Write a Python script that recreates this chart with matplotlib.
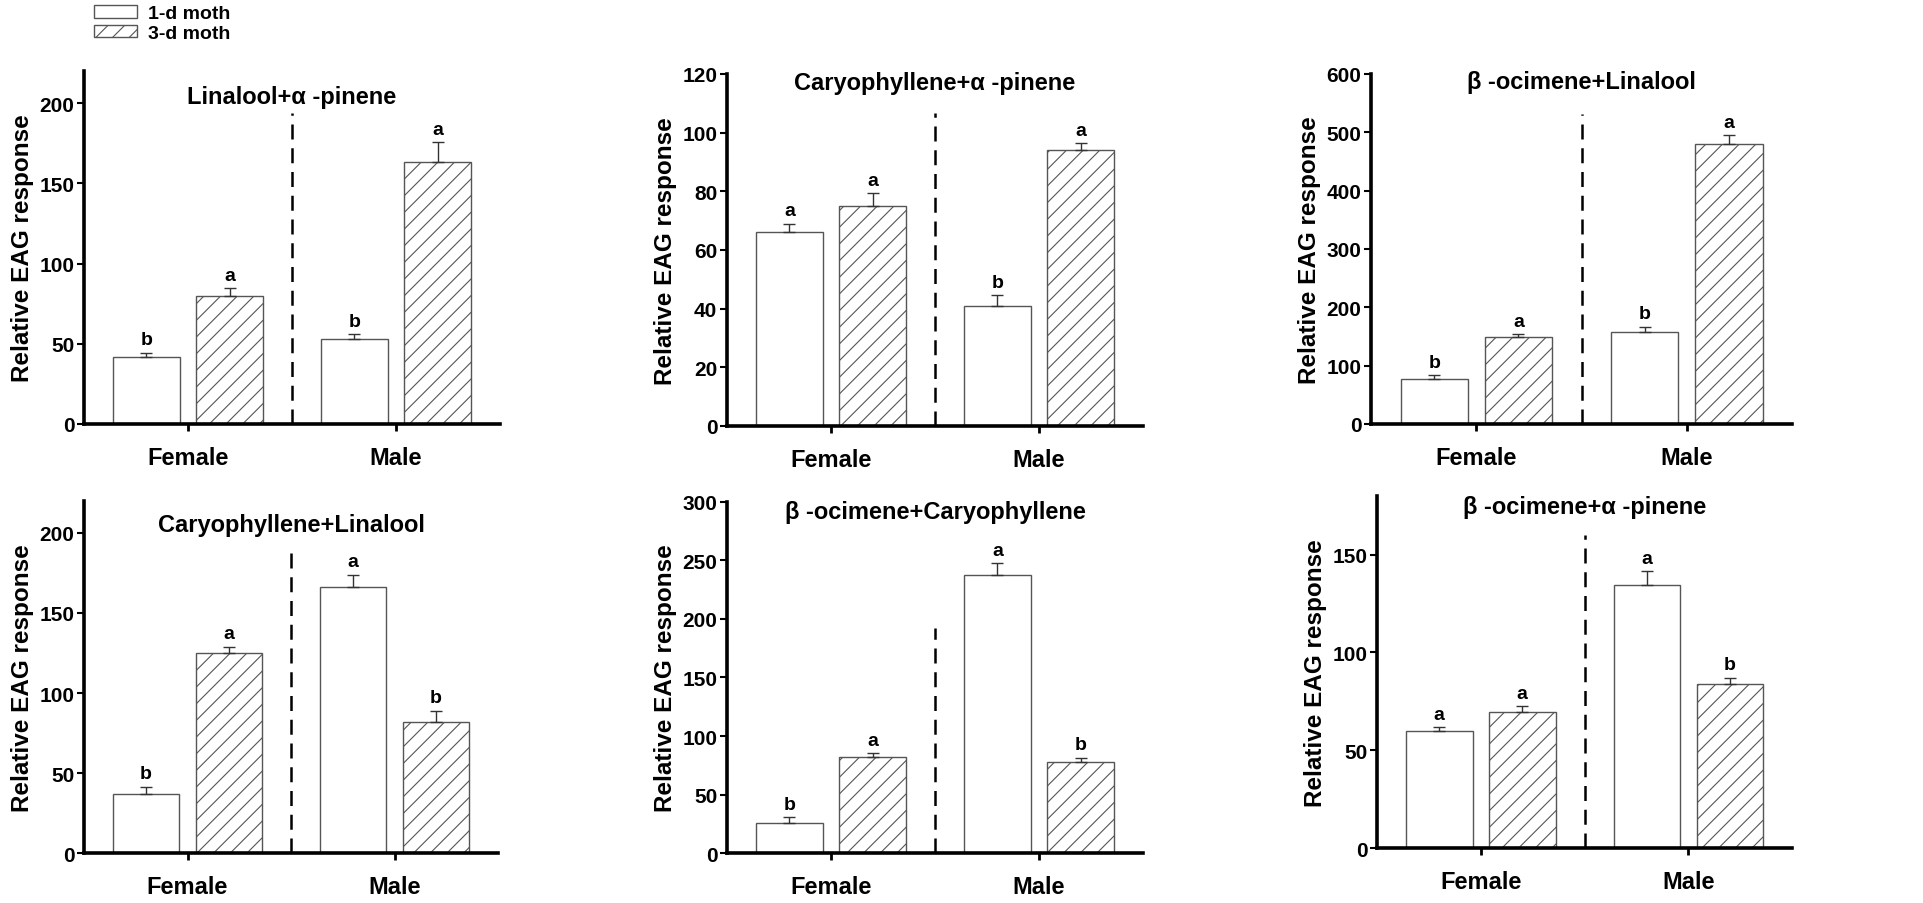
import numpy as np
import matplotlib
matplotlib.use('Agg')
import matplotlib.pyplot as plt
from matplotlib.patches import Patch

plt.rcParams['font.family'] = ['Liberation Sans', 'DejaVu Sans']
plt.rcParams['font.weight'] = 'bold'
plt.rcParams['hatch.linewidth'] = 0.8

# 数据：每个面板 [Female, Male]
sexes = ['Female', 'Male']
series_labels = ['1-d moth', '3-d moth']
titles = ['Linalool+α -pinene', 'Caryophyllene+α -pinene', 'β -ocimene+Linalool',
          'Caryophyllene+Linalool', 'β -ocimene+Caryophyllene', 'β -ocimene+α -pinene']

mean_1d = [[42, 53], [66, 41], [77, 157], [37, 166], [26, 238], [60, 134.5]]
mean_3d = [[79.5, 163.5], [75, 94], [148.5, 480], [125, 82], [82, 77.5], [69.5, 84]]
se_1d = [[2.5, 3], [3, 3.5], [7, 10], [4.5, 8], [5, 10], [2, 7]]
se_3d = [[5, 12], [4.5, 2.5], [6, 15], [4, 7], [3.5, 4], [3, 3.2]]
letters_1d = [['b', 'b'], ['a', 'b'], ['b', 'b'], ['b', 'a'], ['b', 'a'], ['a', 'a']]
letters_3d = [['a', 'a'], ['a', 'a'], ['a', 'a'], ['a', 'b'], ['a', 'b'], ['a', 'b']]
y_max = [220, 120, 600, 220, 300, 180]
y_step = [50, 20, 100, 50, 50, 50]

# 布局（图像坐标比例）
axes_pos = [[0.0437, 0.5299, 0.2163, 0.3905],
            [0.3781, 0.5277, 0.2163, 0.3894],
            [0.7130, 0.5299, 0.2189, 0.3872],
            [0.0437, 0.0553, 0.2153, 0.3894],
            [0.3781, 0.0553, 0.2163, 0.3883],
            [0.7161, 0.0608, 0.2158, 0.3894]]
title_y = [0.929, 0.977, 0.977, 0.932, 0.974, 0.969]
divider_top = [0.88, 0.89, 0.885, 0.87, 0.64, 0.89]

edge = '#555555'
fig = plt.figure(figsize=(19.23, 9.04), dpi=100)

x = np.arange(len(sexes))
w = 0.32
for i in range(6):
    ax = fig.add_axes(axes_pos[i])
    ax.bar(x - 0.2, mean_1d[i], w, color='white', edgecolor=edge, linewidth=1)
    ax.bar(x + 0.2, mean_3d[i], w, color='white', edgecolor=edge, linewidth=1, hatch='//')
    ax.errorbar(x - 0.2, mean_1d[i], yerr=[np.zeros(2), se_1d[i]], fmt='none',
                ecolor='#333333', elinewidth=1, capsize=4, capthick=1)
    ax.errorbar(x + 0.2, mean_3d[i], yerr=[np.zeros(2), se_3d[i]], fmt='none',
                ecolor='#333333', elinewidth=1, capsize=4, capthick=1)
    for j in range(2):
        ax.annotate(letters_1d[i][j], (x[j] - 0.2, mean_1d[i][j] + se_1d[i][j]),
                    xytext=(0, 3), textcoords='offset points', ha='center', va='bottom',
                    fontsize=14, fontweight='bold')
        ax.annotate(letters_3d[i][j], (x[j] + 0.2, mean_3d[i][j] + se_3d[i][j]),
                    xytext=(0, 3), textcoords='offset points', ha='center', va='bottom',
                    fontsize=14, fontweight='bold')

    ax.axvline(0.5, ymin=0, ymax=divider_top[i], color='black', linewidth=1.8,
               linestyle=(0, (6, 3.5)))
    ax.set_xlim(-0.5, 1.5)
    ax.set_ylim(0, y_max[i])
    ax.set_yticks(np.arange(0, y_max[i] + 1, y_step[i]))
    ax.set_xticks(x)
    ax.set_xticklabels(sexes, fontsize=17, fontweight='bold')
    ax.tick_params(axis='y', labelsize=15, length=5, width=1.5, pad=2, direction='out')
    ax.tick_params(axis='x', length=5, width=2, pad=11, direction='out')
    for lab in ax.get_yticklabels():
        lab.set_fontweight('bold')
    ax.spines['top'].set_visible(False)
    ax.spines['right'].set_visible(False)
    ax.spines['left'].set_linewidth(2.6)
    ax.spines['bottom'].set_linewidth(2.6)
    ax.set_ylabel('Relative EAG response', fontsize=17.5, fontweight='bold', labelpad=4)
    ax.text(0.5, title_y[i], titles[i], transform=ax.transAxes, ha='center', va='center',
            fontsize=17, fontweight='bold')

handles = [Patch(facecolor='white', edgecolor=edge, linewidth=1),
           Patch(facecolor='white', edgecolor=edge, linewidth=1, hatch='//')]
fig.legend(handles, series_labels, loc='upper left', bbox_to_anchor=(0.0489, 0.993),
           frameon=False, handlelength=2.2, handleheight=0.58,
           handletextpad=0.58, labelspacing=0.15, borderpad=0, borderaxespad=0,
           prop={'weight': 'bold', 'size': 14})

fig.savefig('out.png', dpi=100)
